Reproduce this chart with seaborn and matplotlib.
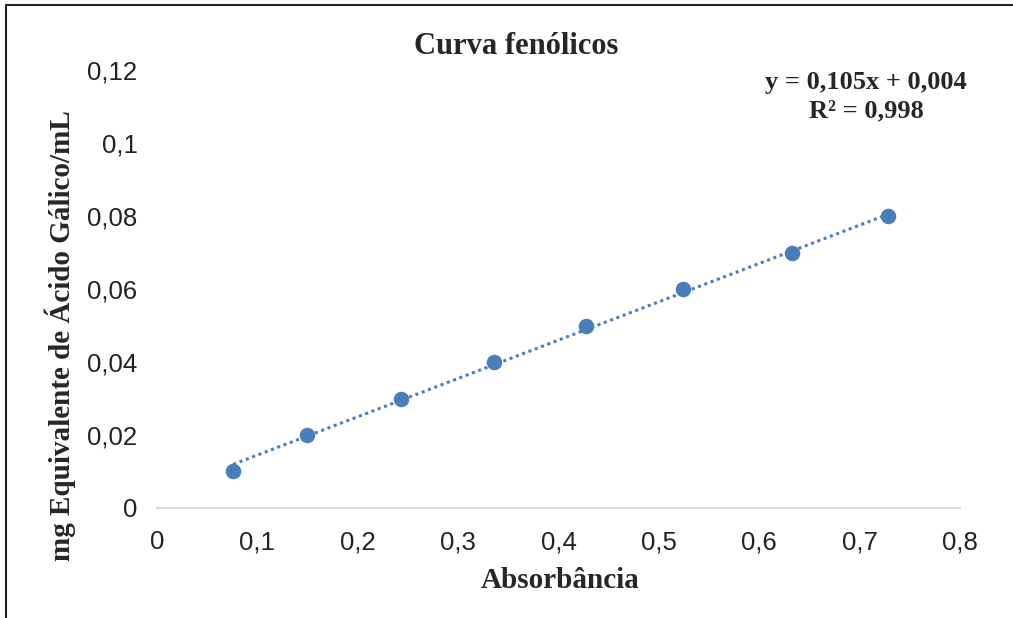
import numpy as np
import pandas as pd
import matplotlib
matplotlib.use("Agg")
import matplotlib.pyplot as plt
import seaborn as sns
from matplotlib.lines import Line2D

absorbancia = [0.076, 0.149, 0.243, 0.336, 0.427, 0.524, 0.633, 0.728]
concentracao = [0.01, 0.02, 0.03, 0.04, 0.05, 0.06, 0.07, 0.08]
x_ticks = [0, 0.1, 0.2, 0.3, 0.4, 0.5, 0.6, 0.7, 0.8]
x_tick_labels = ["0", "0,1", "0,2", "0,3", "0,4", "0,5", "0,6", "0,7", "0,8"]
y_ticks = [0, 0.02, 0.04, 0.06, 0.08, 0.1, 0.12]
y_tick_labels = ["0", "0,02", "0,04", "0,06", "0,08", "0,1", "0,12"]
slope = 0.105
intercept = 0.004

sns.set_theme(style="white")
plt.rcParams['font.family'] = ['Liberation Sans', 'DejaVu Sans']

df = pd.DataFrame({"x": absorbancia, "y": concentracao})
trend = pd.DataFrame({"x": [min(absorbancia), max(absorbancia)]})
trend["y"] = slope * trend["x"] + intercept

fig = plt.figure(figsize=(10.13, 6.18), dpi=100)
ax = fig.add_axes([0.155, 0.178, 0.7927, 0.7087])

color = "#4A7EBB"
sns.lineplot(data=trend, x="x", y="y", ax=ax, color=color, linestyle=(0, (1, 1.2)), linewidth=2.2)
sns.scatterplot(data=df, x="x", y="y", ax=ax, color=color, s=125, edgecolor=color, linewidth=0, zorder=3)

ax.set_xlim(0, 0.8)
ax.set_ylim(0, 0.12)
ax.set_xticks(x_ticks)
ax.set_xticklabels(x_tick_labels, fontsize=18.5, color="#222222")
ax.set_yticks(y_ticks)
ax.set_yticklabels(y_tick_labels, fontsize=18.5, color="#222222")
ax.tick_params(axis="x", length=0, pad=16)
ax.tick_params(axis="y", length=0, pad=14)

for s in ["top", "right", "left"]:
    ax.spines[s].set_visible(False)
ax.spines["bottom"].set_color("#d9d9d9")
ax.spines["bottom"].set_linewidth(1.5)

serif = ['Liberation Serif', 'DejaVu Serif']
ax.set_xlabel("")
ax.set_ylabel("")
fig.text(0.5525, 1 - 580 / 618, "Absorbância", family=serif, fontweight="bold", fontsize=21,
         ha="center", va="center")
fig.text(60 / 1013, 1 - 336 / 618, "mg Equivalente de Ácido Gálico/mL", family=serif, fontweight="bold",
         fontsize=21, rotation=90, ha="center", va="center")
fig.text(0.51, 1 - 46 / 618, "Curva fenólicos", family=serif, fontweight="bold", fontsize=22,
         ha="center", va="center")
fig.text(0.855, 1 - 97 / 618, "y = 0,105x + 0,004\nR² = 0,998", family=serif, fontweight="bold", fontsize=19,
         ha="center", va="center", linespacing=1.3)

# partial frame (left and top) as in reference
fig.add_artist(Line2D([0.006, 0.006], [0, 0.992], transform=fig.transFigure, color="#222222", lw=1.5))
fig.add_artist(Line2D([0.006, 1.0], [0.992, 0.992], transform=fig.transFigure, color="#222222", lw=1.5))

fig.savefig("out.png", dpi=100)
